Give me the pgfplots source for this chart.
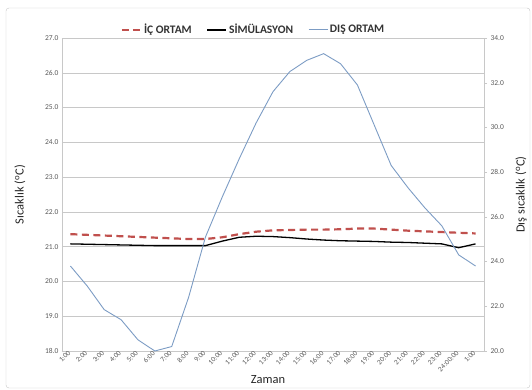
\documentclass[border=0pt]{standalone}
\usepackage{fontspec}
\setmainfont{Carlito}
\usepackage{pgfplots}
\usepackage{pgfplotstable}
\pgfplotsset{compat=1.18}
\definecolor{icred}{RGB}{192,80,77}
\definecolor{disblue}{RGB}{124,156,196}
\definecolor{gridgray}{RGB}{200,200,200}
\definecolor{txtgray}{RGB}{89,89,89}

\pgfplotstableread{
idx ic sim dis
0 21.36 21.08 23.8
1 21.34 21.07 22.9
2 21.32 21.06 21.85
3 21.30 21.05 21.4
4 21.28 21.04 20.5
5 21.26 21.03 20.0
6 21.24 21.03 20.2
7 21.22 21.03 22.4
8 21.22 21.03 25.1
9 21.27 21.16 26.9
10 21.36 21.27 28.6
11 21.43 21.30 30.2
12 21.47 21.29 31.6
13 21.48 21.26 32.5
14 21.49 21.22 33.0
15 21.49 21.19 33.3
16 21.50 21.17 32.85
17 21.52 21.16 31.9
18 21.52 21.15 30.1
19 21.49 21.13 28.3
20 21.46 21.12 27.3
21 21.44 21.10 26.4
22 21.42 21.08 25.6
23 21.40 20.97 24.3
24 21.38 21.08 23.8
}\data

\pgfplotsset{
  common/.style={
    anchor=south west,
    width=422pt, height=313pt, scale only axis,
    xmin=-0.5, xmax=24.5,
    /pgf/number format/assume math mode=true,
    /pgf/number format/fixed,
    /pgf/number format/fixed zerofill,
    /pgf/number format/precision=1,
    axis line style={gridgray},
    yticklabel style={font=\fontsize{7.5}{8}\selectfont, text=txtgray},
    clip=false,
  }
}

\begin{document}
\begin{tikzpicture}
\useasboundingbox (-62pt,-39pt) rectangle (470pt,351pt);
\draw[gray!45, rounded corners=3pt] (-56pt,-37pt) rectangle (468pt,343pt);

\begin{axis}[common,
  ymin=18, ymax=27, ytick={18,...,27},
  xtick={0,...,24},
  xticklabels={1:00,2:00,3:00,4:00,5:00,6:00,7:00,8:00,9:00,10:00,11:00,12:00,13:00,14:00,15:00,16:00,17:00,18:00,19:00,20:00,21:00,22:00,23:00,24:00:00,1:00},
  xticklabel style={rotate=45, anchor=east, font=\fontsize{7.2}{8}\selectfont, text=txtgray, inner sep=1.5pt},
  axis x line*=bottom, axis y line*=left,
  ymajorgrids, major grid style={gridgray},
  tick style={draw=none},
  xlabel={Zaman},
  every axis x label/.style={at={(axis description cs:0.488,-0.0927)}, anchor=center, font=\fontsize{12.5}{14}\selectfont, text=black!85},
  ylabel={Sıcaklık (\textsuperscript{o}C)},
  every axis y label/.style={at={(axis description cs:-0.0995,0.5)}, rotate=90, anchor=center, font=\fontsize{12.5}{14}\selectfont, text=black!85},
]
\addplot[icred, line width=2.2pt, dash pattern=on 7pt off 4.5pt] table[x=idx, y=ic] {\data};
\addplot[black, line width=1.3pt] table[x=idx, y=sim] {\data};
\end{axis}

\begin{axis}[common,
  ymin=20, ymax=34, ytick={20,22,...,34},
  axis y line*=right, axis x line=none,
  ytick style={gridgray}, tick align=outside, major tick length=3pt,
  ylabel={Dış sıcaklık (\textsuperscript{o}C)},
  every axis y label/.style={at={(axis description cs:1.0877,0.5)}, rotate=90, anchor=center, font=\fontsize{12.5}{14}\selectfont, text=black!85},
  legend style={at={(axis description cs:0.454,1.026)}, anchor=center, draw=none, fill=none,
    font=\bfseries\fontsize{11.5}{13}\selectfont, text=black!80, inner sep=0pt,
    /tikz/every even column/.append style={column sep=13pt}},
  legend columns=3,
  legend image code/.code={\draw[#1] (0pt,0pt) -- (19pt,0pt);},
]
\addlegendimage{icred, line width=2.2pt, dash pattern=on 7pt off 4pt}
\addlegendentry{İÇ ORTAM}
\addlegendimage{black, line width=1.3pt}
\addlegendentry{SİMÜLASYON}
\addplot[disblue, line width=0.9pt] table[x=idx, y=dis] {\data};
\addlegendentry{DIŞ ORTAM}
\end{axis}
\end{tikzpicture}
\end{document}
